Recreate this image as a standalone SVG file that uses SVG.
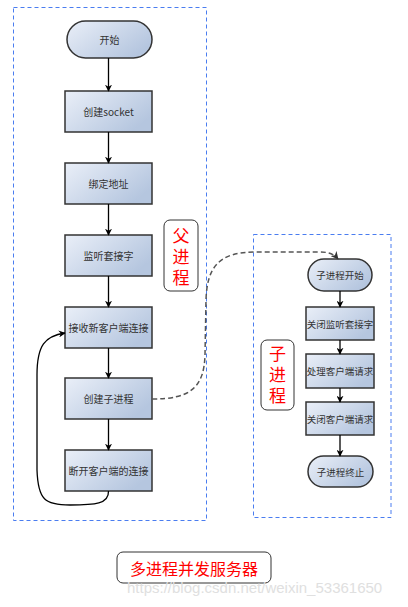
<svg xmlns="http://www.w3.org/2000/svg" width="408" height="607" viewBox="0 0 408 607">
<defs>
<linearGradient id="g" x1="0" y1="0" x2="1" y2="0.6">
<stop offset="0" stop-color="#eaeff8"/>
<stop offset="1" stop-color="#b5c6df"/>
</linearGradient>
<marker id="ah" viewBox="0 0 10 10" refX="9" refY="5" markerWidth="7" markerHeight="7" orient="auto" markerUnits="userSpaceOnUse">
<path d="M0,0 L10,5 L0,10 L3,5 Z" fill="#000"/>
</marker>
<marker id="ahg" viewBox="0 0 10 10" refX="9" refY="5" markerWidth="8" markerHeight="8" orient="auto" markerUnits="userSpaceOnUse">
<path d="M0,0 L10,5 L0,10 L3,5 Z" fill="#333"/>
</marker>
<style>
.n{fill:url(#g);stroke:#333;stroke-width:1.5}
.t{font-family:"Noto Sans CJK SC","Liberation Sans",sans-serif;font-size:10px;fill:#333;text-anchor:middle;dominant-baseline:central}
.ts{font-size:9.5px}
.grp{fill:none;stroke:#4a7df0;stroke-width:1;stroke-dasharray:4,3}
.lab{fill:#fff;stroke:#333;stroke-width:1}
.red{font-family:"Noto Sans CJK SC",sans-serif;fill:#ff0000;text-anchor:middle;dominant-baseline:central}
.vert{writing-mode:vertical-rl;text-orientation:upright;letter-spacing:4px;font-size:17px}
.c{fill:none;stroke:#000;stroke-width:1.3;marker-end:url(#ah)}
</style>
</defs>
<rect class="grp" x="13.5" y="7.5" width="193" height="513"/>
<rect class="grp" x="253.5" y="234.5" width="137.5" height="283"/>
<g id="parentLabel"><rect class="lab" x="164" y="220" width="34" height="71" rx="6"/><text class="red vert" x="181" y="259">父进程</text></g>
<g id="childLabel"><rect class="lab" x="261" y="340" width="33" height="70" rx="6"/><text class="red vert" x="277.5" y="377">子进程</text></g>
<g id="start"><rect class="n" x="67" y="21" width="85" height="37" rx="18.5"/><text class="t" x="109.5" y="39.5">开始</text></g>
<g id="socket"><rect class="n" x="65" y="91" width="87" height="41"/><text class="t" x="108.5" y="111.5">创建socket</text></g>
<g id="bind"><rect class="n" x="65" y="163" width="87" height="41"/><text class="t" x="108.5" y="183.5">绑定地址</text></g>
<g id="listen"><rect class="n" x="65" y="235" width="87" height="41"/><text class="t" x="108.5" y="255.5">监听套接字</text></g>
<g id="accept"><rect class="n" x="65" y="307" width="87" height="41"/><text class="t" x="108.5" y="327.5">接收新客户端连接</text></g>
<g id="fork"><rect class="n" x="65" y="378" width="87" height="41"/><text class="t" x="108.5" y="398.5">创建子进程</text></g>
<g id="close"><rect class="n" x="65" y="450" width="87" height="41"/><text class="t" x="108.5" y="470.5">断开客户端的连接</text></g>
<g id="cstart"><rect class="n" x="308" y="259" width="64" height="32" rx="16"/><text class="t ts" x="340" y="275">子进程开始</text></g>
<g id="cclose"><rect class="n" x="306" y="307" width="68" height="33"/><text class="t ts" x="340" y="323.5">关闭监听套接字</text></g>
<g id="handle"><rect class="n" x="306" y="354" width="68" height="34"/><text class="t ts" x="340" y="371">处理客户端请求</text></g>
<g id="cclose2"><rect class="n" x="306" y="402" width="68" height="33"/><text class="t ts" x="340" y="418.5">关闭客户端请求</text></g>
<g id="cend"><rect class="n" x="308" y="456" width="65" height="31" rx="15.5"/><text class="t ts" x="340.5" y="471.5">子进程终止</text></g>
<g id="connectors">
<path class="c" d="M108.5,58 V91"/>
<path class="c" d="M108.5,132 V163"/>
<path class="c" d="M108.5,204 V235"/>
<path class="c" d="M108.5,276 V307"/>
<path class="c" d="M108.5,348 V378"/>
<path class="c" d="M108.5,419 V450"/>
<path class="c" d="M108.5,491 C109,504 95,505 70,505 C45,505 38,500 37,470 L37,375 C37,345 45,336 65,333"/>
<path class="c" d="M340,291 V307"/>
<path class="c" d="M340,340 V354"/>
<path class="c" d="M340,388 V402"/>
<path class="c" d="M340,435 V456"/>
<path d="M152,399 C190,399 204,388 205,355 L206,300 C207,268 218,252 255,252 L318,252 C328,252 333,253 338,259" fill="none" stroke="#555" stroke-width="1.5" stroke-dasharray="5,3" marker-end="url(#ahg)"/>
</g>
<g id="title"><rect class="lab" x="117" y="552" width="154" height="31" rx="6"/><text class="red" x="194" y="568" font-size="16">多进程并发服务器</text></g>
<text x="127" y="593" font-family="Liberation Sans, sans-serif" font-size="15" fill="#e0e0e0">https://blog.csdn.net/weixin_53361650</text>
</svg>
